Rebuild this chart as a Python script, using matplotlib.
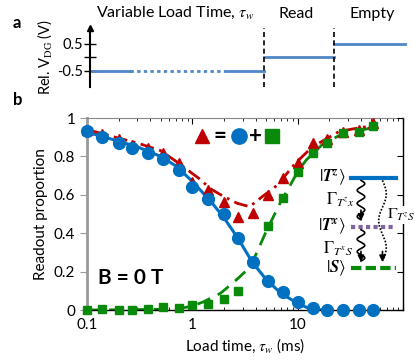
import numpy as np
import matplotlib
matplotlib.use("Agg")
import matplotlib.pyplot as plt
from matplotlib.ticker import FixedLocator, NullFormatter, FixedFormatter, LogLocator

plt.rcParams['font.family'] = ['Lato', 'DejaVu Sans']
plt.rcParams['mathtext.fontset'] = 'stix'

# measured readout proportions
t_ms = [0.1, 0.14, 0.2, 0.27, 0.38, 0.53, 0.74, 1.0, 1.4, 2.0, 2.7, 3.8, 5.2, 7.2, 10, 14, 19, 27, 38, 52]
p_T0 = [0.93, 0.90, 0.87, 0.845, 0.82, 0.785, 0.73, 0.64, 0.58, 0.50, 0.375, 0.25, 0.15, 0.095, 0.04, 0.01, 0.0, 0.0, 0.0, 0.0]
p_S = [0.0, 0.005, 0.0, 0.0, 0.007, 0.014, 0.012, 0.026, 0.031, 0.056, 0.10, 0.25, 0.44, 0.585, 0.72, 0.82, 0.868, 0.923, 0.929, 0.96]
p_sum = [0.94, 0.915, 0.889, 0.86, 0.842, 0.816, 0.764, 0.668, 0.625, 0.564, 0.486, 0.503, 0.60, 0.69, 0.766, 0.868, 0.889, 0.929, 0.94, 0.972]

# fit curves
fit_t_T0 = [0.1, 0.15, 0.2, 0.3, 0.5, 0.7, 1.0, 1.5, 2.0, 2.7, 3.7, 5.0, 7.0, 10, 12, 14, 17]
fit_T0 = [0.925, 0.9, 0.878, 0.85, 0.80, 0.75, 0.67, 0.565, 0.48, 0.375, 0.25, 0.16, 0.085, 0.035, 0.015, 0.005, 0.0]
fit_t = [0.1, 0.3, 0.5, 0.77, 1.0, 1.28, 1.85, 2.5, 3.3, 3.7, 5.1, 7.0, 8.5, 10, 12, 17, 25, 35, 52]
fit_S = [0.0, 0.002, 0.004, 0.009, 0.02, 0.043, 0.087, 0.147, 0.208, 0.246, 0.417, 0.57, 0.65, 0.72, 0.78, 0.86, 0.91, 0.93, 0.95]
fit_t_sum = [0.1, 0.2, 0.3, 0.5, 0.71, 1.15, 1.5, 2.0, 2.66, 3.5, 4.6, 6.4, 9.5, 13.8, 20, 24.7, 35, 52]
fit_sum = [0.94, 0.895, 0.87, 0.83, 0.772, 0.686, 0.63, 0.59, 0.556, 0.538, 0.59, 0.65, 0.764, 0.85, 0.9, 0.93, 0.945, 0.96]

# pulse sequence for panel a
seg_start = [0.0, 0.552, 0.775]
seg_end = [0.552, 0.775, 1.0]
seg_level = [-0.5, 0.0, 0.5]
seg_names = ['Variable Load Time, $\\tau_w$', 'Read', 'Empty']

blue = '#0070C0'
green = '#0A8A0A'
red = '#C00000'
purple = '#8064A2'
pulse_blue = '#4F86C6'

fig = plt.figure(figsize=(4.15, 3.62), dpi=100)

# ---------- panel a ----------
axa = fig.add_axes([90/415, 1-87/362, 315/415, 59/362])
axa.set_xlim(0, 1)
axa.set_ylim(-1.09, 1.08)
for s in ['top', 'right', 'bottom']:
    axa.spines[s].set_visible(False)
axa.spines['left'].set_linewidth(1.5)
axa.plot([0], [1.08], marker='^', color='k', markersize=5, clip_on=False)
axa.set_xticks([])
axa.set_yticks([-0.5, 0, 0.5])
axa.set_yticklabels(['-0.5', '', '0.5'], fontsize=10.5)
axa.tick_params(axis='y', direction='inout', length=8, width=1, pad=1)
axa.set_ylabel('Rel. V$_{\\mathrm{DG}}$ (V)', fontsize=10.5, labelpad=2)

# load segment: solid - dotted - solid
x1 = seg_end[0]
axa.plot([0.005, 0.127], [seg_level[0]]*2, color=pulse_blue, lw=2)
axa.plot([0.127, 0.438], [seg_level[0]]*2, color=pulse_blue, lw=2, ls=(0, (1.2, 1.2)))
axa.plot([0.438, x1], [seg_level[0]]*2, color=pulse_blue, lw=2)
for i in range(1, 3):
    axa.plot([seg_start[i], seg_end[i]], [seg_level[i]]*2, color=pulse_blue, lw=2, clip_on=False)
for xb in [seg_end[0], seg_end[1]]:
    axa.axvline(xb, color='k', ls=(0, (3, 2)), lw=1.2)
label_x = [0.27, 0.655, 0.897]
for lx, name in zip(label_x, seg_names):
    axa.text(lx, 1.35, name, ha='center', va='bottom', fontsize=11.5, clip_on=False)

fig.text(13/415, 1-28/362, 'a', fontsize=12, fontweight='bold')
fig.text(13/415, 1-105/362, 'b', fontsize=12, fontweight='bold')

# ---------- panel b ----------
ax = fig.add_axes([87/415, 1-310/362, 316/415, 192/362])
ax.set_xscale('log')
ax.set_xlim(0.1, 100)
ax.set_ylim(0, 1)

ax.plot(fit_t_T0, fit_T0, color=blue, lw=2.2)
ax.plot(fit_t, fit_S, color=green, lw=2, ls=(0, (5, 3)))
ax.plot(fit_t_sum, fit_sum, color=red, lw=2, ls=(0, (5, 2, 1, 2)))
ax.plot(t_ms, p_sum, '^', color=red, markersize=7, clip_on=False, zorder=3)
ax.plot(t_ms, p_S, 's', color=green, markersize=6, clip_on=False, zorder=4)
ax.plot(t_ms, p_T0, 'o', color=blue, markersize=8.5, clip_on=False, zorder=5)

ax.set_yticks([0, 0.2, 0.4, 0.6, 0.8, 1.0])
ax.set_yticklabels(['0', '0.2', '0.4', '0.6', '0.8', '1'], fontsize=11)
ax.xaxis.set_major_locator(FixedLocator([0.1, 1, 10, 100]))
ax.xaxis.set_major_formatter(FixedFormatter(['0.1', '1', '10', '']))
ax.xaxis.set_minor_locator(LogLocator(base=10, subs=np.arange(2, 10)))
ax.xaxis.set_minor_formatter(NullFormatter())
ax.tick_params(axis='x', which='both', direction='in', top=True, labelsize=11, pad=6)
ax.tick_params(axis='x', which='major', length=4)
ax.tick_params(axis='x', which='minor', length=2)
ax.tick_params(axis='y', direction='out', length=5, color='#999999', right=False)
ax.spines['left'].set_color('#999999')
ax.spines['left'].set_linewidth(2)
ax.spines['top'].set_color('#888888')
ax.spines['top'].set_linewidth(0.8)
ax.spines['right'].set_linewidth(1)
ax.spines['bottom'].set_linewidth(1)
# inward ticks on right spine
axr = ax.twinx()
axr.set_ylim(0, 1)
axr.set_yticks([0, 0.2, 0.4, 0.6, 0.8, 1.0])
axr.set_yticklabels([])
axr.tick_params(axis='y', direction='in', length=4)
for s in axr.spines.values():
    s.set_visible(False)

ax.set_xlabel('Load time, $\\tau_w$ (ms)', fontsize=11, labelpad=3)
ax.set_ylabel('Readout proportion', fontsize=11, labelpad=4)

ax.text(0.035, 0.167, 'B = 0 T', transform=ax.transAxes, fontsize=15, fontweight='bold', va='center')

# symbol equation
ty = 0.906
ax.plot([0.363], [ty], '^', color=red, markersize=10, transform=ax.transAxes)
ax.text(0.421, ty, '=', transform=ax.transAxes, fontsize=16, fontweight='bold', ha='center', va='center')
ax.plot([0.481], [ty], 'o', color=blue, markersize=11, transform=ax.transAxes)
ax.text(0.532, ty, '+', transform=ax.transAxes, fontsize=16, fontweight='bold', ha='center', va='center')
ax.plot([0.584], [ty], 's', color=green, markersize=9.5, transform=ax.transAxes)

# energy level diagram
tr = ax.transAxes
lev_x = [0.837, 0.978]
ax.plot(lev_x, [0.689]*2, color=blue, lw=3, transform=tr)
ax.plot(lev_x, [0.432]*2, color=purple, lw=3, ls=(0, (1, 0.8)), transform=tr)
ax.plot(lev_x, [0.220]*2, color=green, lw=3, ls=(0, (2.5, 1)), transform=tr)
ax.text(0.818, 0.689, '$|\\mathbfit{T}^{\\mathbfit{z}}\\rangle$', transform=tr, ha='right', va='center', fontsize=12)
ax.text(0.818, 0.432, '$|\\mathbfit{T}^{\\mathbfit{x}}\\rangle$', transform=tr, ha='right', va='center', fontsize=12)
ax.text(0.818, 0.220, '$|\\mathbfit{S}\\rangle$', transform=tr, ha='right', va='center', fontsize=12)


def wavy(xc, ytop, ybot, amp, nwave, ls='-'):
    s = np.linspace(0, 1, 200)
    xs = xc + amp * np.sin(2 * np.pi * nwave * s)
    ys = ytop + (ybot - ytop) * s
    ax.plot(xs, ys, color='k', lw=1.2, ls=ls, transform=tr)
    ax.annotate('', xy=(xs[-1], ybot - 0.005), xytext=(xs[-1], ybot + 0.05), xycoords=tr,
                arrowprops=dict(arrowstyle='-|>', color='k', lw=1.2, mutation_scale=9, shrinkA=0, shrinkB=0))


wavy(0.867, 0.675, 0.47, 0.012, 3)
wavy(0.867, 0.418, 0.255, 0.012, 2.5)
wavy(0.935, 0.675, 0.255, 0.012, 1.5, ls=(0, (1, 1)))
ax.text(0.848, 0.573, '$\\Gamma_{T^{z}x}$', transform=tr, ha='right', va='center', fontsize=12)
ax.text(0.843, 0.321, '$\\Gamma_{T^{x}S}$', transform=tr, ha='right', va='center', fontsize=12)
ax.text(0.948, 0.495, '$\\Gamma_{T^{z}S}$', transform=tr, ha='left', va='center', fontsize=11.5,
        bbox=dict(facecolor='white', edgecolor='none', pad=0.5), zorder=10, clip_on=False)

fig.savefig('out.png', dpi=100)
